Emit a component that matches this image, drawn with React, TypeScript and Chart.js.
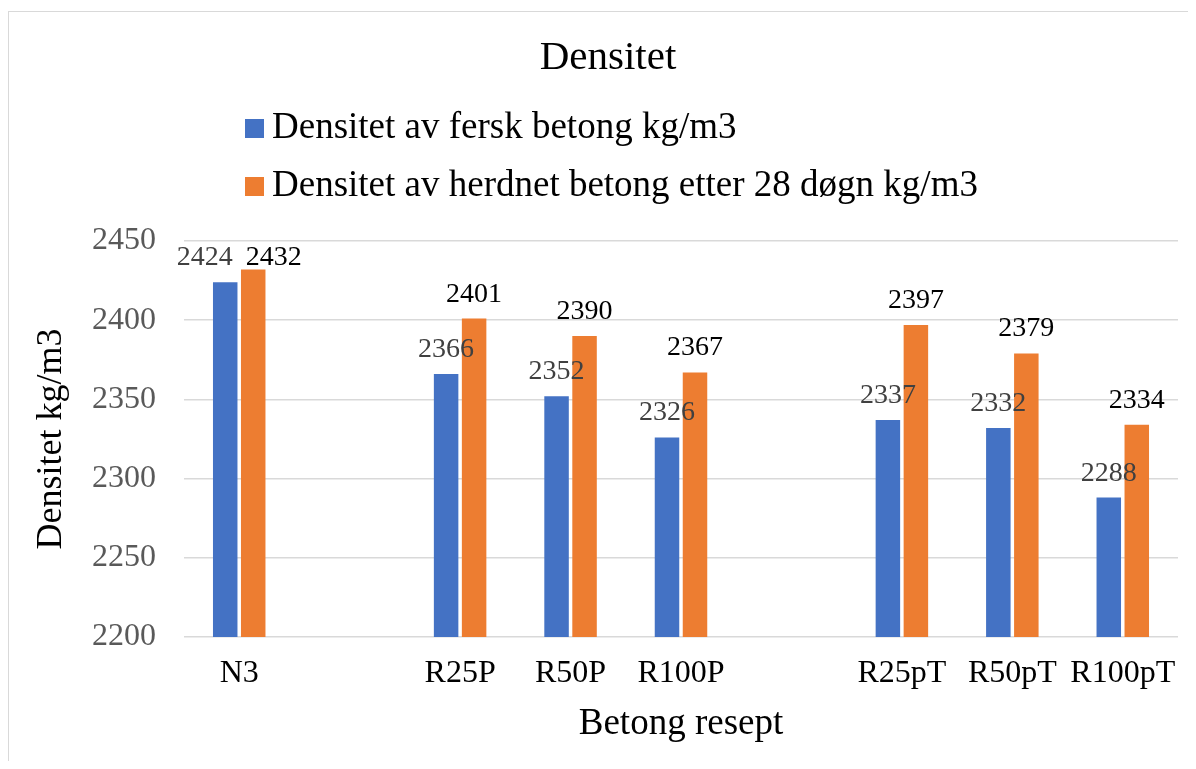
import React, { useEffect, useRef } from "react";
import { Chart, registerables } from "chart.js";

Chart.register(...registerables);

// Recipes on the x axis; empty strings leave a gap between the recipe groups
const categories = ["N3", "", "R25P", "R50P", "R100P", "", "R25pT", "R50pT", "R100pT"];
// Density of fresh concrete, kg/m3
const freshDensity = [2424, null, 2366, 2352, 2326, null, 2337, 2332, 2288];
// Density of hardened concrete after 28 days, kg/m3
const hardenedDensity = [2432, null, 2401, 2390, 2367, null, 2397, 2379, 2334];

const seriesNames = [
  "Densitet av fersk betong kg/m3",
  "Densitet av herdnet betong etter 28 døgn kg/m3",
];
const seriesColors = ["#4472C4", "#ED7D31"];
const valueLabelColors = ["#404040", "#000000"];

const yMin = 2200;
const yMax = 2450;
const yStep = 50;

const chartTitle = "Densitet";
const xAxisTitle = "Betong resept";
const yAxisTitle = "Densitet kg/m3";

const SERIF = "'Liberation Serif', 'Times New Roman', Times, serif";
const CANVAS_W = 1198;
const CANVAS_H = 768;

// Value labels above each bar; labels of neighbouring bars that collide are spread apart
const valueLabelPlugin = {
  id: "barValueLabels",
  afterDatasetsDraw(chart: any) {
    const { ctx, chartArea } = chart;
    const fontSize = 28;
    const gap = 17;
    const capRoom = 24;
    const minSpace = 13;
    ctx.save();
    ctx.font = `${fontSize}px ${SERIF}`;
    ctx.textAlign = "center";
    ctx.textBaseline = "alphabetic";
    const count = chart.data.labels.length;
    for (let j = 0; j < count; j++) {
      const items: any[] = [];
      chart.data.datasets.forEach((ds: any, i: number) => {
        const v = ds.data[j];
        if (v == null) return;
        const bar = chart.getDatasetMeta(i).data[j];
        const text = String(v);
        const w = ctx.measureText(text).width;
        const y = Math.max(bar.y - gap, chartArea.top + capRoom);
        items.push({ x: bar.x, y, w, text, color: valueLabelColors[i] });
      });
      for (let k = 0; k + 1 < items.length; k++) {
        const a = items[k];
        const b = items[k + 1];
        if (Math.abs(a.y - b.y) < fontSize) {
          const overlap = a.x + a.w / 2 + minSpace - (b.x - b.w / 2);
          if (overlap > 0) {
            a.x -= overlap / 2;
            b.x += overlap / 2;
          }
        }
      }
      items.forEach((it) => {
        ctx.fillStyle = it.color;
        ctx.fillText(it.text, it.x, it.y);
      });
    }
    ctx.restore();
  },
};

// Chart title, centred on the whole chart frame, and the legend as a
// left-aligned vertical list underneath it
const headerPlugin = {
  id: "chartHeader",
  afterDraw(chart: any) {
    const { ctx } = chart;
    ctx.save();
    ctx.fillStyle = "#000000";
    ctx.font = `41px ${SERIF}`;
    ctx.textAlign = "center";
    ctx.textBaseline = "middle";
    ctx.fillText(chartTitle, 599, 46);

    const boxX = 236;
    const box = 19;
    const textX = 263;
    const baselines = [126, 184];
    ctx.font = `37px ${SERIF}`;
    ctx.textAlign = "left";
    ctx.textBaseline = "alphabetic";
    chart.data.datasets.forEach((ds: any, i: number) => {
      const base = baselines[i];
      ctx.fillStyle = ds.backgroundColor;
      ctx.fillRect(boxX, base - box, box, box);
      ctx.fillStyle = "#000000";
      ctx.fillText(ds.label, textX, base);
    });
    ctx.restore();
  },
};

export default function App() {
  const canvasRef = useRef<HTMLCanvasElement | null>(null);

  useEffect(() => {
    if (!canvasRef.current) return;
    const chart = new Chart(canvasRef.current, {
      type: "bar",
      data: {
        labels: categories,
        datasets: [
          {
            label: seriesNames[0],
            data: freshDensity,
            backgroundColor: seriesColors[0],
            categoryPercentage: 0.507,
            barPercentage: 0.875,
          },
          {
            label: seriesNames[1],
            data: hardenedDensity,
            backgroundColor: seriesColors[1],
            categoryPercentage: 0.507,
            barPercentage: 0.875,
          },
        ],
      },
      options: {
        animation: false,
        responsive: false,
        devicePixelRatio: 1,
        layout: { padding: { left: 0, right: 29, top: 229, bottom: 0 } },
        plugins: {
          legend: { display: false },
          tooltip: { enabled: false },
          title: { display: false },
        },
        scales: {
          x: {
            grid: { display: false, drawTicks: false },
            border: { display: false },
            ticks: {
              color: "#000000",
              font: { family: SERIF, size: 32 },
              padding: 17,
              maxRotation: 0,
              autoSkip: false,
            },
            title: {
              display: true,
              text: xAxisTitle,
              color: "#000000",
              font: { family: SERIF, size: 37, lineHeight: 1.2 },
              padding: { top: 0, bottom: 34 },
            },
            afterFit(scale: any) {
              scale.height = CANVAS_H - 625;
            },
          },
          y: {
            min: yMin,
            max: yMax,
            grid: { color: "#d9d9d9", lineWidth: 1.5, drawTicks: false },
            border: { display: false },
            ticks: {
              stepSize: yStep,
              color: "#595959",
              font: { family: SERIF, size: 32 },
              padding: 28,
              callback: (value: any) => String(value),
            },
            title: {
              display: true,
              text: yAxisTitle,
              color: "#000000",
              font: { family: SERIF, size: 36, lineHeight: 1.2 },
              padding: { top: 21, bottom: 0 },
            },
            afterFit(scale: any) {
              scale.width = 175;
            },
          },
        },
      },
      plugins: [valueLabelPlugin, headerPlugin],
    });
    return () => chart.destroy();
  }, []);

  return (
    <div
      style={{
        width: 1188,
        height: 753,
        overflow: "hidden",
        paddingTop: 3,
        boxSizing: "border-box",
      }}
    >
      <div
        style={{
          width: CANVAS_W + 2,
          height: CANVAS_H + 2,
          border: "1px solid #d9d9d9",
          boxSizing: "border-box",
          background: "#ffffff",
        }}
      >
        <canvas
          ref={canvasRef}
          width={CANVAS_W}
          height={CANVAS_H}
          style={{ display: "block", width: CANVAS_W, height: CANVAS_H }}
        />
      </div>
    </div>
  );
}
